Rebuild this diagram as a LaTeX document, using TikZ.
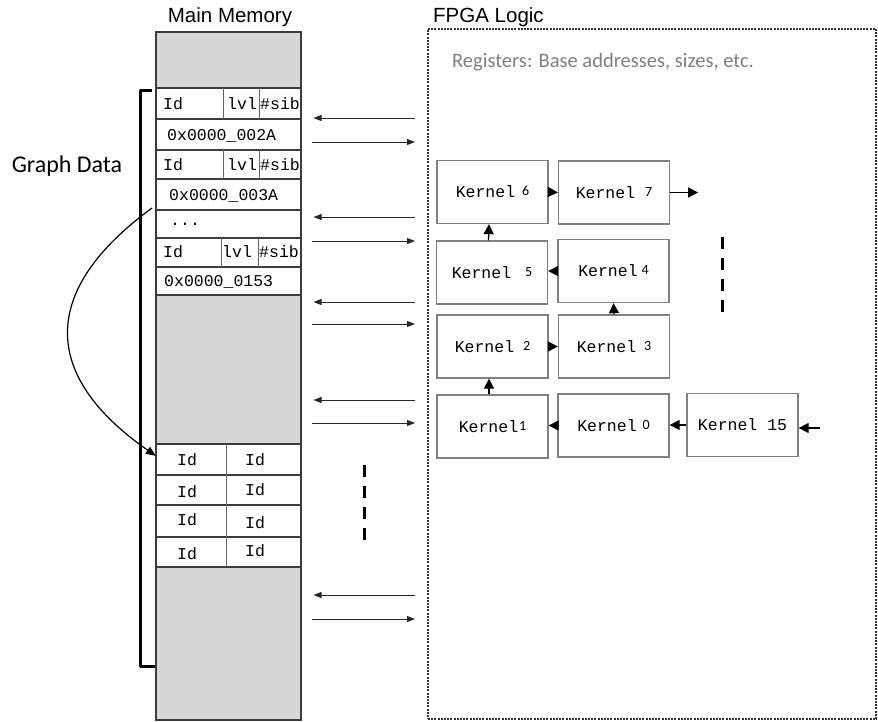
\documentclass[tikz,border=0pt]{standalone}
\usepackage{fontspec}
\setmainfont{Liberation Sans}
\newfontfamily\monof{Liberation Mono}
\newfontfamily\calib{Carlito}
\usetikzlibrary{arrows.meta}
\definecolor{memgray}{RGB}{214,214,214}
\definecolor{rowline}{RGB}{60,60,60}
\newcommand{\kd}[2]{\kern#1pt\raisebox{2pt}{\calib\fontsize{14}{14}\selectfont #2}}
\begin{document}
\begin{tikzpicture}[x=1pt,y=-1pt,
  memtxt/.style={font=\monof\fontsize{16.5}{16.5}\selectfont, inner sep=0pt},
  kbox/.style={draw=black!50, line width=1.3pt, minimum width=111pt, minimum height=63pt, inner sep=0pt, font=\monof\fontsize{16.5}{16.5}\selectfont},
  memarr/.style={line width=0.9pt, draw=black!85, -{Triangle[length=8pt,width=6pt]}},
  karr/.style={line width=1.3pt, -{Triangle[length=10pt,width=10pt]}},
  rowsep/.style={draw=rowline, line width=2.2pt},
  coldiv/.style={draw=black!60, line width=1pt},
  vdots/.style={line width=3pt, dash pattern=on 12pt off 9pt}
]
\useasboundingbox (0,0) rectangle (878,721);

% ---------- Main memory column ----------
\fill[memgray] (155,31) rectangle (300,88);
\fill[memgray] (155,295) rectangle (300,444);
\fill[memgray] (155,567) rectangle (300,719);
\node[draw=rowline, line width=1.5pt, minimum width=145pt, minimum height=688pt, anchor=north west, inner sep=0pt] (mem) at (155,31) {};
\foreach \yy in {88,119,150,179,210,238,267,295,444,475,505,537,567}
  \draw[rowsep] (155,\yy) -- (300,\yy);
% column dividers
\draw[coldiv] (223,88) -- (223,119);
\draw[coldiv] (259,88) -- (259,119);
\draw[coldiv] (223,150) -- (223,179);
\draw[coldiv] (259,150) -- (259,179);
\draw[coldiv] (221,238) -- (221,267);
\draw[coldiv] (258,238) -- (258,267);
\draw[coldiv] (226,444) -- (226,567);

\node[memtxt, anchor=west] (r1a) at (163,104) {Id};
\node[memtxt, anchor=west] (r1b) at (227,104) {lvl};
\node[memtxt, anchor=west] (r1c) at (260,104) {\#sib};
\node[memtxt, anchor=west] (r2) at (167,136) {0x0000\_002A};
\node[memtxt, anchor=west] (r3a) at (163,165) {Id};
\node[memtxt, anchor=west] (r3b) at (227,165) {lvl};
\node[memtxt, anchor=west] (r3c) at (260,165) {\#sib};
\node[memtxt, anchor=west] (r4) at (169,196) {0x0000\_003A};
\node[memtxt, anchor=west] (r5) at (170,224) {...};
\node[memtxt, anchor=west] (r6a) at (163,252) {Id};
\node[memtxt, anchor=west] (r6b) at (222,252) {lvl};
\node[memtxt, anchor=west] (r6c) at (259,252) {\#sib};
\node[memtxt, anchor=west] (r7) at (164,282) {0x0000\_0153};
\node[memtxt] (e1a) at (187,460) {Id};
\node[memtxt] (e1b) at (255,460) {Id};
\node[memtxt] (e2a) at (187,492) {Id};
\node[memtxt] (e2b) at (255,490) {Id};
\node[memtxt] (e3a) at (187,520) {Id};
\node[memtxt] (e3b) at (255,523) {Id};
\node[memtxt] (e4a) at (187,554) {Id};
\node[memtxt] (e4b) at (255,551) {Id};

\draw[vdots] (364,465) -- (364,540);

% ---------- Labels ----------
\node[anchor=base, inner sep=0pt, font=\fontsize{20.5}{20.5}\selectfont] (mmlabel) at (230,22) {Main Memory};
\node[anchor=base west, inner sep=0pt, font=\fontsize{20.5}{20.5}\selectfont] (fpgalabel) at (433,22) {FPGA Logic};
\node[anchor=base, inner sep=0pt, font=\calib\fontsize{24}{24}\selectfont] (gd) at (67,172) {Graph Data};

% bracket
\draw[line width=3pt, line join=round] (152,90) -- (140,90) -- (140,666) -- (155,666);

% curve
\coordinate (cstart) at (152,208);
\node[inner sep=0pt, minimum size=0pt] (etarget) at (156,456) {};
\draw[line width=1.2pt, -{Triangle[length=10pt,width=8pt]}] (cstart) .. controls (40,290) and (40,375) .. (etarget);

% ---------- FPGA box ----------
\node[draw=black!80, line width=2pt, dash pattern=on 2pt off 1.2pt, minimum width=448pt, minimum height=690pt, anchor=north west, inner sep=0pt] (fpga) at (427,28) {};
\node[anchor=base west, inner sep=0pt, text=black!50, font=\calib\fontsize{20.5}{20.5}\selectfont] (regs) at (452,67) {Registers: Base addresses, sizes, etc.};

% memory <-> fpga arrows
\foreach \ya/\yb in {118/142, 217/241, 302/324, 400/423, 595/619}{
  \draw[memarr] ([xshift=-12pt]fpga.west |- 0,\ya) -- ([xshift=12pt]mem.east |- 0,\ya);
  \draw[memarr] ([xshift=10pt]mem.east |- 0,\yb) -- ([xshift=-12pt]fpga.west |- 0,\yb);
}

% ---------- Kernels ----------
\node[kbox] (K6) at (492.5,192) {Kernel\kd{7}{6}};
\node[kbox] (K7) at (614,192.5) {Kernel\kd{10}{7}};
\node[kbox] (K5) at (492,272.5) {Kernel\kd{14}{5}};
\node[kbox] (K4) at (613.5,271) {Kernel\kd{4}{4}};
\node[kbox] (K2) at (492.5,346.5) {Kernel\kd{9}{2}};
\node[kbox] (K3) at (614,346.5) {Kernel\kd{8}{3}};
\node[kbox] (K1) at (492.5,426.5) {Kernel\kd{1}{1}};
\node[kbox] (K0) at (613.5,425.5) {Kernel\kd{6}{0}};
\node[kbox] (K15) at (742.5,425) {Kernel 15};

\draw[karr] (K6.east) -- (K7.west);
\draw[karr] (K7.east) -- ++(28,0) coordinate (k7out);
\draw[karr] ([xshift=-3.5pt]K5.north) -- ([xshift=-3.5pt]K6.south);
\draw[karr] (K4.west) -- (K5.east |- K4.west);
\draw[karr] (K3.north) -- (K4.south);
\draw[karr] (K2.east) -- (K3.west);
\draw[karr] ([xshift=-3.5pt]K1.north) -- ([xshift=-3.5pt]K2.south);
\draw[karr] (K0.west) -- (K1.east |- K0.west);
\draw[karr] (K15.west) -- (K0.east |- K15.west);
\coordinate (k15in) at (820,428);
\draw[karr] (k15in) -- (K15.east |- k15in);

\draw[vdots] (722,237) -- (722,313);
\end{tikzpicture}
\end{document}
